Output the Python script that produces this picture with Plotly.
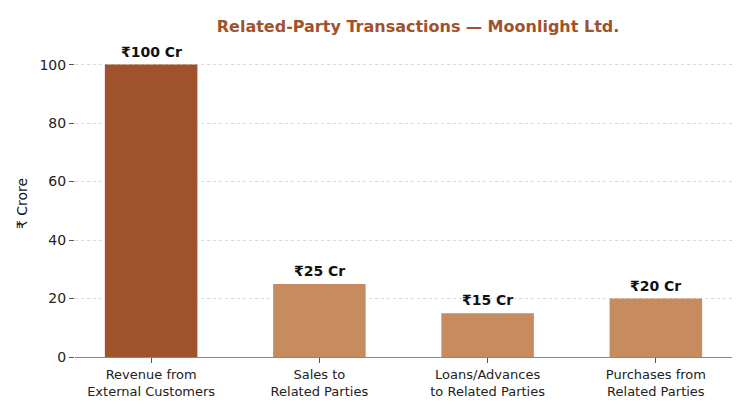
import plotly.graph_objects as go

# data
categories = ["Revenue from<br>External Customers", "Sales to<br>Related Parties",
              "Loans/Advances<br>to Related Parties", "Purchases from<br>Related Parties"]
values = [100, 25, 15, 20]
labels = ["₹100 Cr", "₹25 Cr", "₹15 Cr", "₹20 Cr"]
bar_colors = ["#A0522D", "#C68C60", "#C68C60", "#C68C60"]
y_ticks = [0, 20, 40, 60, 80, 100]

font = "DejaVu Sans"
xs = list(range(len(categories)))

fig = go.Figure()
fig.add_trace(go.Bar(x=xs, y=values, width=0.55, marker_color=bar_colors,
                     marker_line_width=0, showlegend=False))

# value labels above the bars
for x, v, t in zip(xs, values, labels):
    fig.add_annotation(x=x, y=v, text="<b>" + t + "</b>", showarrow=False,
                       yanchor="bottom", yshift=3,
                       font=dict(family=font, size=14, color="#111111"))

# page body has an 8px margin, so the figure is a bit smaller than the window
fig.update_layout(
    width=742, height=402,
    margin=dict(l=67, r=18, t=42, b=53),
    paper_bgcolor="white", plot_bgcolor="white",
    title=dict(text="<b>Related-Party Transactions — Moonlight Ltd.</b>",
               xref="container", x=0.5526, xanchor="center",
               yref="container", y=0.953, yanchor="middle",
               font=dict(family=font, size=16, color="#A0522D")),
    font=dict(family=font, color="#222222"),
)
fig.update_xaxes(range=[-0.4525, 3.4525], tickvals=xs, ticktext=categories,
                 ticks="outside", ticklen=5, tickcolor="#555555",
                 showline=True, linecolor="#888888", linewidth=1,
                 showgrid=False, tickfont=dict(family=font, size=13, color="#222222"))
fig.update_yaxes(range=[0, 105], tickvals=y_ticks, ticks="outside", ticklen=5,
                 tickcolor="#555555", showline=False, zeroline=False,
                 showgrid=True, gridcolor="#d8d8d8", griddash="dot", gridwidth=1,
                 tickfont=dict(family=font, size=14, color="#222222"),
                 title=dict(text="₹ Crore", font=dict(family=font, size=14, color="#111111"),
                            standoff=8))

fig.write_html("out.html")
